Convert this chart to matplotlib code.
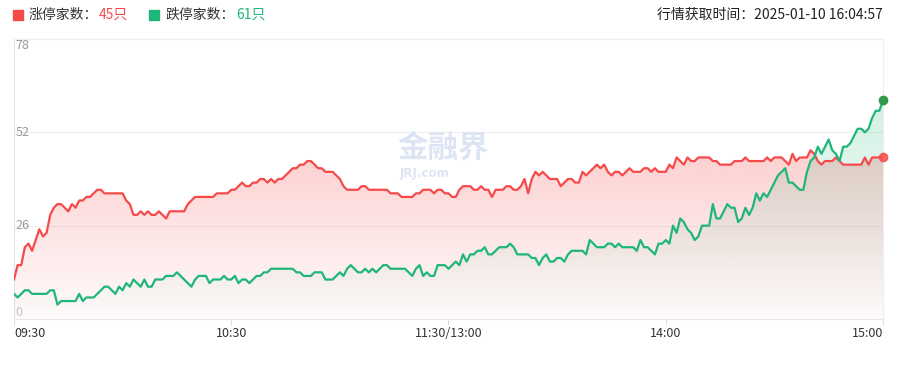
import numpy as np
import matplotlib
matplotlib.use('Agg')
import matplotlib.pyplot as plt
import matplotlib.colors as mcolors
from matplotlib.lines import Line2D

plt.rcParams['font.family'] = ['Noto Sans CJK SC', 'DejaVu Sans']

# minutes since 09:30 (lunch break removed), one value per minute
up_limit = [
    11, 15, 15, 20, 21, 19, 22, 25, 23, 24,
    29, 31, 32, 32, 31, 30, 32, 31, 33, 33,
    34, 34, 35, 36, 36, 35, 35, 35, 35, 35,
    35, 33, 32, 29, 29, 30, 29, 30, 29, 29,
    30, 29, 28, 30, 30, 30, 30, 30, 32, 33,
    34, 34, 34, 34, 34, 34, 35, 35, 35, 35,
    36, 36, 37, 38, 37, 37, 38, 38, 39, 39,
    38, 39, 38, 39, 39, 40, 41, 42, 42, 43,
    43, 44, 44, 43, 42, 42, 41, 41, 41, 40,
    39, 37, 36, 36, 36, 36, 37, 37, 36, 36,
    36, 36, 36, 36, 35, 35, 35, 34, 34, 34,
    34, 35, 35, 36, 36, 36, 35, 36, 36, 35,
    35, 34, 34, 36, 37, 37, 37, 36, 36, 37,
    36, 36, 34, 36, 36, 36, 37, 37, 36, 36,
    37, 39, 35, 39, 41, 40, 41, 40, 39, 39,
    39, 37, 38, 39, 39, 38, 38, 41, 40, 41,
    42, 43, 42, 43, 41, 40, 41, 41, 40, 41,
    42, 41, 41, 41, 42, 42, 41, 42, 41, 41,
    41, 43, 42, 45, 44, 43, 45, 44, 44, 45,
    45, 45, 45, 44, 44, 43, 43, 43, 43, 44,
    44, 44, 45, 44, 44, 44, 44, 44, 45, 44,
    45, 45, 45, 44, 43, 46, 44, 45, 45, 45,
    47, 46, 44, 43, 44, 44, 44, 45, 44, 43,
    43, 43, 43, 43, 43, 45, 43, 45, 45, 45, 45,
]
down_limit = [
    7, 6, 7, 8, 8, 7, 7, 7, 7, 7,
    8, 8, 4, 5, 5, 5, 5, 5, 7, 5,
    6, 6, 6, 7, 8, 9, 9, 8, 7, 9,
    8, 10, 9, 11, 10, 9, 11, 9, 9, 11,
    11, 11, 12, 12, 12, 13, 12, 11, 10, 9,
    11, 12, 12, 12, 10, 11, 11, 11, 12, 11,
    11, 12, 10, 11, 11, 10, 11, 12, 12, 13,
    13, 14, 14, 14, 14, 14, 14, 14, 13, 13,
    12, 12, 12, 13, 13, 13, 11, 11, 11, 12,
    13, 12, 14, 15, 14, 13, 13, 14, 13, 14,
    13, 14, 15, 15, 14, 14, 14, 14, 14, 13,
    12, 14, 15, 12, 13, 12, 12, 15, 15, 15,
    14, 15, 16, 15, 18, 16, 18, 18, 19, 19,
    20, 18, 18, 19, 20, 20, 20, 21, 20, 18,
    18, 18, 18, 17, 17, 15, 17, 18, 16, 16,
    17, 17, 16, 18, 19, 19, 19, 19, 18, 22,
    21, 20, 20, 20, 21, 21, 20, 21, 20, 20,
    20, 20, 19, 22, 20, 20, 19, 18, 21, 21,
    22, 21, 26, 24, 28, 27, 25, 24, 22, 23,
    26, 26, 26, 32, 28, 28, 30, 32, 31, 31,
    27, 28, 31, 29, 31, 35, 33, 35, 34, 36,
    38, 40, 41, 42, 38, 38, 37, 36, 36, 41,
    44, 45, 48, 46, 48, 50, 47, 46, 44, 48,
    48, 49, 51, 53, 53, 52, 53, 56, 58, 58, 61,
]
tick_pos = [0, 60, 120, 180, 240]
tick_labels = ['09:30', '10:30', '11:30/13:00', '14:00', '15:00']
y_ticks = [0, 26, 52, 78]
update_time = '2025-01-10 16:04:57'

RED = '#f64a4a'
GREEN = '#1eb679'

x = np.arange(len(up_limit))
up = np.array(up_limit)
down = np.array(down_limit)


def gradient_fill(ax, x, y, color, a_top, a_bot, z):
    poly = ax.fill_between(x, y, 0, color='none', lw=0)
    path = poly.get_paths()[0]
    grad = np.zeros((256, 1, 4))
    grad[:, :, :3] = mcolors.to_rgb(color)
    grad[:, 0, 3] = np.linspace(a_top, a_bot, 256)
    im = ax.imshow(grad, extent=[x[0], x[-1], 0, y.max()], aspect='auto',
                   origin='upper', zorder=z, interpolation='bilinear')
    im.set_clip_path(path, transform=ax.transData)


fig = plt.figure(figsize=(9, 3.8), dpi=100)
ax = fig.add_axes([14 / 900, 61 / 380, 869 / 900, 280 / 380])

for v in y_ticks[1:]:
    ax.axhline(v, color='#efefef', lw=0.8, zorder=0)

# watermark
ax.text(106, 47.6, '金融界', fontsize=22, fontweight='bold', color='#dde5f4',
        ha='left', va='center', zorder=1)
ax.text(106.5, 40.4, 'JRJ.com', fontsize=8.5, fontweight='bold', color='#dde5f4',
        family='DejaVu Sans', ha='left', va='center', zorder=1)

gradient_fill(ax, x, up, RED, 0.26, 0.02, 2)
gradient_fill(ax, x, down, GREEN, 0.20, 0.0, 3)

ax.plot(x, up, color=RED, lw=1.6, zorder=5, solid_joinstyle='round')
ax.plot(x, down, color=GREEN, lw=1.6, zorder=6, solid_joinstyle='round')
ax.plot(x[-1], up[-1], 'o', color=RED, ms=6, alpha=0.85, zorder=7, clip_on=False)
ax.plot(x[-1], down[-1], 'o', color='#2f9a4c', ms=6, zorder=8, clip_on=False)

ax.set_xlim(0, 240)
ax.set_ylim(0, 78)

for s in ['left', 'right', 'top', 'bottom']:
    ax.spines[s].set_linewidth(0.8)
ax.spines['left'].set_color('#e2e2ea')
ax.spines['right'].set_color('#eeeeee')
ax.spines['top'].set_color('#efefef')
ax.spines['bottom'].set_color('#e6e6e6')

ax.set_yticks([])
for v in y_ticks:
    va = 'top' if v == max(y_ticks) else ('bottom' if v == 0 else 'center')
    col = '#c4c4c4' if v == 0 else '#999999'
    ax.text(0.4, v, str(v), fontsize=9, color=col, ha='left', va=va, zorder=9)

ax.set_xticks(tick_pos)
ax.set_xticklabels(tick_labels, fontsize=9, color='#333333')
ax.tick_params(axis='x', length=4, width=0.8, color='#dddddd', pad=2)
labels = ax.get_xticklabels()
labels[0].set_ha('left')
labels[-1].set_ha('right')

# header
fig.add_artist(Line2D([18 / 900], [1 - 15 / 380], marker='s', ms=7, color=RED,
                      transform=fig.transFigure))
fig.text(29 / 900, 1 - 15 / 380, '涨停家数：', fontsize=10, color='#333333', va='center')
fig.text(99 / 900, 1 - 15 / 380, f'{up[-1]}只', fontsize=10, color=RED, va='center')
fig.add_artist(Line2D([154 / 900], [1 - 15 / 380], marker='s', ms=7, color=GREEN,
                      transform=fig.transFigure))
fig.text(166 / 900, 1 - 15 / 380, '跌停家数：', fontsize=10, color='#333333', va='center')
fig.text(236 / 900, 1 - 15 / 380, f'{down[-1]}只', fontsize=10, color=GREEN, va='center')
fig.text(883 / 900, 1 - 15 / 380, '行情获取时间：' + update_time, fontsize=10,
         color='#222222', ha='right', va='center')

fig.savefig('out.png', dpi=100)
